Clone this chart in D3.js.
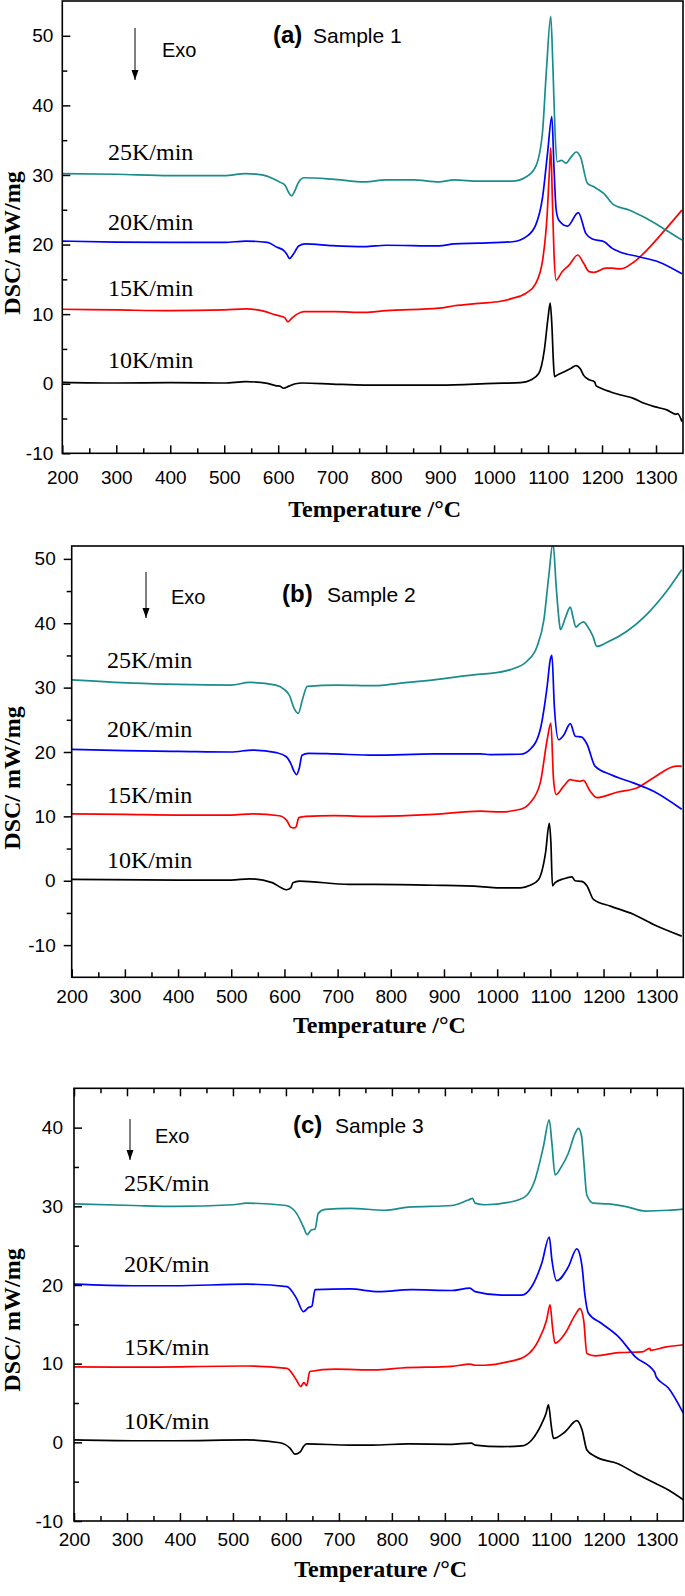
<!DOCTYPE html>
<html><head><meta charset="utf-8">
<script src="https://cdn.jsdelivr.net/npm/d3@7"></script>
<style>body{margin:0;background:#fff}</style>
</head><body>
<svg id="chart" width="685" height="1596"></svg>
<script>
// ---------- data ----------
const rateLabels = ["10K/min", "15K/min", "20K/min", "25K/min"];
const seriesColors = ["#000000", "#ff0000", "#0000ff", "#1b8c8c"];
const xTickValues = [200, 300, 400, 500, 600, 700, 800, 900, 1000, 1100, 1200, 1300];
const yTicksAB = [-10, 0, 10, 20, 30, 40, 50];
const yTicksC = [-10, 0, 10, 20, 30, 40];

// Sample 1 (a)
const a10 = [[200,0.2],[300,0.1],[400,0.15],[500,0.1],[540,0.3],[580,0.05],[597,-0.3],[603,-0.35],[610,-0.65],[620,-0.35],[632,0],[645,0.1],[700,-0.05],[760,-0.19],[900,-0.19],[1000,0.05],[1049,0.15],[1068,0.53],[1083,1.5],[1093,4.8],[1100,9.5],[1104,11.6],[1107,8.5],[1110,3],[1112,1.0],[1116,1.2],[1130,1.73],[1142,2.2],[1152,2.6],[1160,2.1],[1166,1.2],[1175,0.6],[1186,0.29],[1189,-0.3],[1192,-0.43],[1215,-1.15],[1235,-1.63],[1258,-2.1],[1278,-2.8],[1297,-3.3],[1321,-3.8],[1337,-4.4],[1340,-4.3],[1348,-5.45]];
const a15 = [[200,10.7],[300,10.6],[400,10.5],[500,10.6],[540,10.75],[575,10.4],[595,9.9],[605,9.7],[612,9.5],[618,8.9],[625,9.4],[635,10.0],[648,10.35],[704,10.35],[760,10.25],[800,10.5],[898,10.85],[926,11.2],[972,11.55],[1012,11.85],[1034,12.27],[1059,13.0],[1077,14.4],[1090,17.8],[1098.5,24.5],[1103,31.4],[1105,33.9],[1108,26.4],[1111,18.7],[1115,14.9],[1126,16.1],[1139,17.05],[1155,18.5],[1166,17.3],[1176,16.1],[1185,16.0],[1207,16.6],[1219,16.6],[1234,16.5],[1259,17.5],[1274,18.5],[1311,21.6],[1348,24.95]];
const a20 = [[200,20.5],[300,20.35],[400,20.3],[500,20.3],[540,20.5],[580,20.3],[598,19.6],[610,19.15],[616,18.6],[621,18.0],[628,18.6],[638,19.8],[650,20.1],[700,19.85],[760,19.7],[800,19.9],[898,19.8],[926,20.1],[972,20.2],[1034,20.4],[1059,21.1],[1077,22.8],[1090,26.9],[1099,33.1],[1107,38.4],[1111,31],[1115,25],[1120,23.5],[1136,22.65],[1156,24.6],[1170,21.6],[1182,20.8],[1204,20.4],[1219,19.45],[1232,18.97],[1268,18.25],[1305,17.5],[1348,15.8]];
const a25 = [[200,30.2],[300,30.1],[400,29.9],[500,29.9],[540,30.2],[570,30.0],[590,29.5],[605,28.9],[613,28.5],[620,27.4],[625,27.0],[630,27.6],[638,29.0],[648,29.6],[700,29.4],[760,29.0],[800,29.3],[850,29.3],[898,29.0],[926,29.3],[972,29.1],[1034,29.1],[1059,29.7],[1077,31.2],[1089.5,36],[1097,45.1],[1105,52.8],[1109,45.5],[1113,36],[1117,31.9],[1125,32.1],[1133,31.7],[1143,32.6],[1152,33.3],[1160,32.6],[1173,28.8],[1185,28.3],[1203,27.35],[1222,25.7],[1250,24.96],[1281,23.8],[1318,22.1],[1348,20.65]];

// Sample 2 (b)
const b10 = [[200,0.2],[400,0.1],[500,0.1],[534,0.3],[577,-0.3],[594,-1.1],[604,-1.4],[612,-1.1],[616,-0.3],[628,-0.05],[722,-0.57],[769,-0.57],[881,-0.7],[969,-0.9],[1000,-1.1],[1044,-1.1],[1062,-0.7],[1078,0.2],[1091,4.35],[1098,8.9],[1101,6],[1104,-0.8],[1109,-0.3],[1125,0.3],[1140.6,0.6],[1146.8,0.0],[1159,-0.1],[1169,-0.8],[1181,-2.9],[1213,-3.95],[1256,-5.2],[1294,-6.8],[1347,-8.6]];
const b15 = [[200,10.4],[300,10.3],[400,10.2],[500,10.2],[540,10.4],[590,10.1],[605,9.3],[612,8.3],[618,8.2],[622,8.4],[627,9.8],[640,10.0],[694,10.1],[769,10.0],[881,10.3],[969,10.8],[1006,10.7],[1044,11.1],[1062,12.1],[1081,15.2],[1094,21.9],[1101,24.5],[1106,15.7],[1111,13.4],[1125,14.7],[1137.5,15.7],[1147,15.55],[1156,15.45],[1162,15.6],[1175,13.9],[1187.5,12.9],[1225,13.75],[1262.5,14.4],[1294,16.0],[1337,17.8],[1347,17.8]];
const b20 = [[200,20.4],[300,20.2],[400,20.1],[500,20.0],[540,20.3],[585,19.9],[603,19.3],[612,18.2],[618,17.0],[623,16.5],[628,17.5],[633,19.5],[645,19.8],[694,19.7],[769,19.5],[881,19.7],[969,19.7],[987,19.6],[1044,19.65],[1062,20.4],[1081,23.5],[1094,30.2],[1100,34.4],[1103,35.0],[1107.5,27.1],[1115.6,21.9],[1125,22.6],[1137.5,24.4],[1147,22.45],[1159,22.3],[1169,21.2],[1184,17.8],[1213,16.5],[1256,15.2],[1294,13.9],[1347,11.1]];
const b25 = [[200,31.2],[315,30.7],[400,30.5],[500,30.4],[534,30.8],[584,30.4],[600,29.7],[610,28.7],[618,26.8],[626,26.0],[634,28.2],[643,30.2],[700,30.4],[769,30.3],[819,30.7],[881,31.2],[969,32.1],[987,32.2],[1025,32.8],[1056,34.1],[1075,36.4],[1088,40.6],[1097,47.3],[1105,52.5],[1111,45.7],[1117,40],[1119,39.0],[1128,40.8],[1137.5,42.5],[1143,40.8],[1148,39.4],[1155,39.9],[1162.5,40.2],[1170,39.5],[1180,38],[1187.5,36.4],[1206,37.0],[1244,38.75],[1281,41.35],[1319,45.0],[1347,48.3]];

// Sample 3 (c)
const c10 = [[200,0.3],[312,0.2],[390,0.2],[526,0.3],[589,-0.05],[608,-0.76],[617,-1.5],[627,-1.2],[633,-0.55],[639,-0.2],[721,-0.35],[762,-0.35],[830,-0.2],[913,-0.25],[950,-0.1],[957,-0.35],[1007,-0.55],[1045,-0.45],[1064,0.3],[1083,2.4],[1091,3.7],[1095.5,4.75],[1101,2.0],[1105,0.5],[1127,1.35],[1149,2.75],[1159,1.57],[1168,-0.97],[1184,-1.8],[1228,-2.75],[1259,-3.9],[1297,-5.2],[1322,-6.05],[1350,-7.3]];
const c15 = [[200,9.6],[312,9.55],[526,9.7],[602,9.4],[620,7.9],[628,7.1],[634,7.6],[639,7.2],[645,9.0],[693,9.3],[768,9.2],[818,9.45],[913,9.65],[947,9.95],[957,9.8],[976,9.8],[1020,10.25],[1051,10.9],[1077,13.0],[1092,15.55],[1098.6,17.46],[1103,14.7],[1108,12.6],[1127,13.86],[1146,16.2],[1155,17.0],[1162,15.5],[1168,11.3],[1184,11.0],[1228,11.4],[1272,11.5],[1287,11.95],[1288,11.7],[1316,12.1],[1350,12.4]];
const c20 = [[200,20.1],[312,19.9],[390,19.9],[526,20.1],[602,19.8],[620,18.3],[633,16.6],[642,17.1],[649,17.3],[655,19.4],[721,19.5],[775,19.15],[837,19.4],[913,19.3],[947,19.6],[957,19.15],[1007,18.7],[1045,18.7],[1064,19.8],[1083,22.8],[1097,26.1],[1102,23.2],[1111,20.55],[1133,22.3],[1149,24.6],[1155,23.8],[1159,22.3],[1164,18.9],[1171,16.4],[1196,15.1],[1228,13.4],[1259,10.9],[1296,8.9],[1299,8.3],[1322,6.9],[1350,3.7]];
const c25 = [[200,30.3],[312,30.1],[390,30.0],[500,30.2],[526,30.4],[600,30.1],[620,29.1],[633,27.4],[640,26.4],[648,27.0],[655,27.1],[661,29.1],[674,29.6],[721,29.75],[787,29.5],[831,29.9],[913,30.1],[944,30.8],[952,31.0],[957,30.4],[976,30.2],[1020,30.5],[1051,31.2],[1070,33.35],[1086,37.6],[1097,41.0],[1102,38.0],[1108,34.0],[1120,35.05],[1133,36.75],[1146,39.3],[1152,39.9],[1158,38.9],[1162,35.9],[1168,31.4],[1180,30.4],[1209,30.3],[1246,29.9],[1278,29.4],[1322,29.5],[1350,29.65]];

// ---------- layout ----------
const panels = [
  { tag: "(a)", sample: "Sample 1", series: [a10, a15, a20, a25],
    box: {l: 62.3, t: 1, r: 683, b: 453.3}, yDomain: [-10, 55], yTicks: yTicksAB,
    yTickIn: true, yPad: 9, xPad: 17, topTicks: false,
    tagPos: [273, 43], samplePos: [313, 43], exoPos: [162, 57], arrow: [135, 28, 80],
    ratePos: [[108, 368], [108, 296], [108, 230], [108, 160]],
    yTitleY: 243, xTitleY: 517 },
  { tag: "(b)", sample: "Sample 2", series: [b10, b15, b20, b25],
    box: {l: 71.7, t: 546, r: 683.3, b: 977.3}, yDomain: [-15, 52], yTicks: yTicksAB,
    yTickIn: false, yPad: 8, xPad: 12, topTicks: false,
    tagPos: [282, 602], samplePos: [327, 602], exoPos: [171, 604], arrow: [146, 572, 618],
    ratePos: [[107, 868], [107, 803], [107, 737], [107, 668]],
    yTitleY: 778, xTitleY: 1033 },
  { tag: "(c)", sample: "Sample 3", series: [c10, c15, c20, c25],
    box: {l: 74, t: 1088.3, r: 683.3, b: 1521}, yDomain: [-10, 45], yTicks: yTicksC,
    yTickIn: true, yPad: 11, xPad: 12, topTicks: true,
    tagPos: [293, 1133], samplePos: [335, 1133], exoPos: [155, 1143], arrow: [130, 1119, 1160],
    ratePos: [[124, 1429], [124, 1355], [124, 1272], [124, 1191]],
    yTitleY: 1320, xTitleY: 1577 }
];

const svg = d3.select("#chart");
const defs = svg.append("defs");
defs.append("marker").attr("id", "ah").attr("viewBox", "0 0 10 10")
  .attr("refX", 10).attr("refY", 5).attr("markerWidth", 10).attr("markerHeight", 10)
  .attr("markerUnits", "userSpaceOnUse").attr("orient", "auto")
  .append("path").attr("d", "M0,1.5 L10,5 L0,8.5 Z").attr("fill", "#000");

const SANS = "'Liberation Sans', Arial, sans-serif";
const SERIF = "'Liberation Serif', 'Times New Roman', serif";
const fmt = d => (d < 0 ? "-" : "") + Math.abs(d);

panels.forEach((p, i) => {
  const {l, t, r, b} = p.box;
  const x = d3.scaleLinear().domain([200, 1350]).range([l, r]);
  const y = d3.scaleLinear().domain(p.yDomain).range([b, t]);
  const g = svg.append("g");

  defs.append("clipPath").attr("id", "clip" + i)
    .append("rect").attr("x", l).attr("y", t).attr("width", r - l).attr("height", b - t);

  // curves
  const line = d3.line().x(d => x(d[0])).y(d => y(d[1])).curve(d3.curveMonotoneX);
  const cg = g.append("g").attr("clip-path", `url(#clip${i})`);
  p.series.forEach((s, k) => {
    cg.append("path").datum(s).attr("d", line).attr("fill", "none")
      .attr("stroke", seriesColors[k]).attr("stroke-width", 1.7).attr("stroke-linejoin", "round");
  });

  // x axis (bottom)
  const xMinor = d3.range(250, 1350, 100);
  const xa = g.append("g").attr("transform", `translate(0,${b})`)
    .call(d3.axisBottom(x).tickValues(xTickValues).tickFormat(fmt).tickSizeInner(-8).tickSizeOuter(0).tickPadding(p.xPad));
  const xm = g.append("g").attr("transform", `translate(0,${b})`)
    .call(d3.axisBottom(x).tickValues(xMinor).tickSizeInner(-5).tickSizeOuter(0).tickFormat(""));
  // y axis
  const yMinor = d3.range(p.yDomain[0], p.yDomain[1] + 0.01, 5).filter(v => !p.yTicks.includes(v) && v > p.yDomain[0] && v < p.yDomain[1]);
  const ya = g.append("g").attr("transform", `translate(${l},0)`)
    .call(d3.axisLeft(y).tickValues(p.yTicks).tickFormat(fmt).tickSizeInner(p.yTickIn ? -8 : 8).tickSizeOuter(0).tickPadding(p.yPad));
  const ym = g.append("g").attr("transform", `translate(${l},0)`)
    .call(d3.axisLeft(y).tickValues(yMinor).tickSizeInner(p.yTickIn ? -5 : 5).tickSizeOuter(0).tickFormat(""));
  const axes = [xa, xm, ya, ym];
  if (p.topTicks) {
    axes.push(g.append("g").attr("transform", `translate(0,${t})`)
      .call(d3.axisTop(x).tickValues(xTickValues).tickSizeInner(-8).tickSizeOuter(0).tickFormat("")));
    axes.push(g.append("g").attr("transform", `translate(0,${t})`)
      .call(d3.axisTop(x).tickValues(xMinor).tickSizeInner(-5).tickSizeOuter(0).tickFormat("")));
  }
  axes.forEach(a => {
    a.attr("font-size", null).attr("font-family", null);
    a.select(".domain").remove();
    a.selectAll(".tick line").attr("stroke", "#000").attr("stroke-width", 1.5);
    a.selectAll("text").attr("font-family", SANS).style("font-size", "19px").attr("fill", "#000");
  });

  // frame
  g.append("rect").attr("x", l).attr("y", t).attr("width", r - l).attr("height", b - t)
    .attr("fill", "none").attr("stroke", "#000").attr("stroke-width", 1.6);

  // axis titles
  g.append("text").attr("x", (l + r) / 2 + 2).attr("y", p.xTitleY).attr("text-anchor", "middle")
    .attr("font-family", SERIF).attr("font-weight", "bold").attr("font-size", 24).text("Temperature /°C");
  g.append("text").attr("transform", `translate(20,${p.yTitleY}) rotate(-90)`).attr("text-anchor", "middle")
    .attr("font-family", SERIF).attr("font-weight", "bold").attr("font-size", 24).text("DSC/ mW/mg");

  // annotations
  g.append("text").attr("x", p.tagPos[0]).attr("y", p.tagPos[1]).attr("font-family", SANS)
    .attr("font-weight", "bold").attr("font-size", 24).text(p.tag);
  g.append("text").attr("x", p.samplePos[0]).attr("y", p.samplePos[1]).attr("font-family", SANS)
    .attr("font-size", 21).text(p.sample);
  g.append("text").attr("x", p.exoPos[0]).attr("y", p.exoPos[1]).attr("font-family", SANS)
    .attr("font-size", 20).text("Exo");
  g.append("line").attr("x1", p.arrow[0]).attr("x2", p.arrow[0]).attr("y1", p.arrow[1]).attr("y2", p.arrow[2])
    .attr("stroke", "#000").attr("stroke-width", 1).attr("marker-end", "url(#ah)");
  rateLabels.forEach((lab, k) => {
    g.append("text").attr("x", p.ratePos[k][0]).attr("y", p.ratePos[k][1]).attr("font-family", SERIF)
      .attr("font-size", 24).text(lab);
  });
});
</script>
</body></html>
